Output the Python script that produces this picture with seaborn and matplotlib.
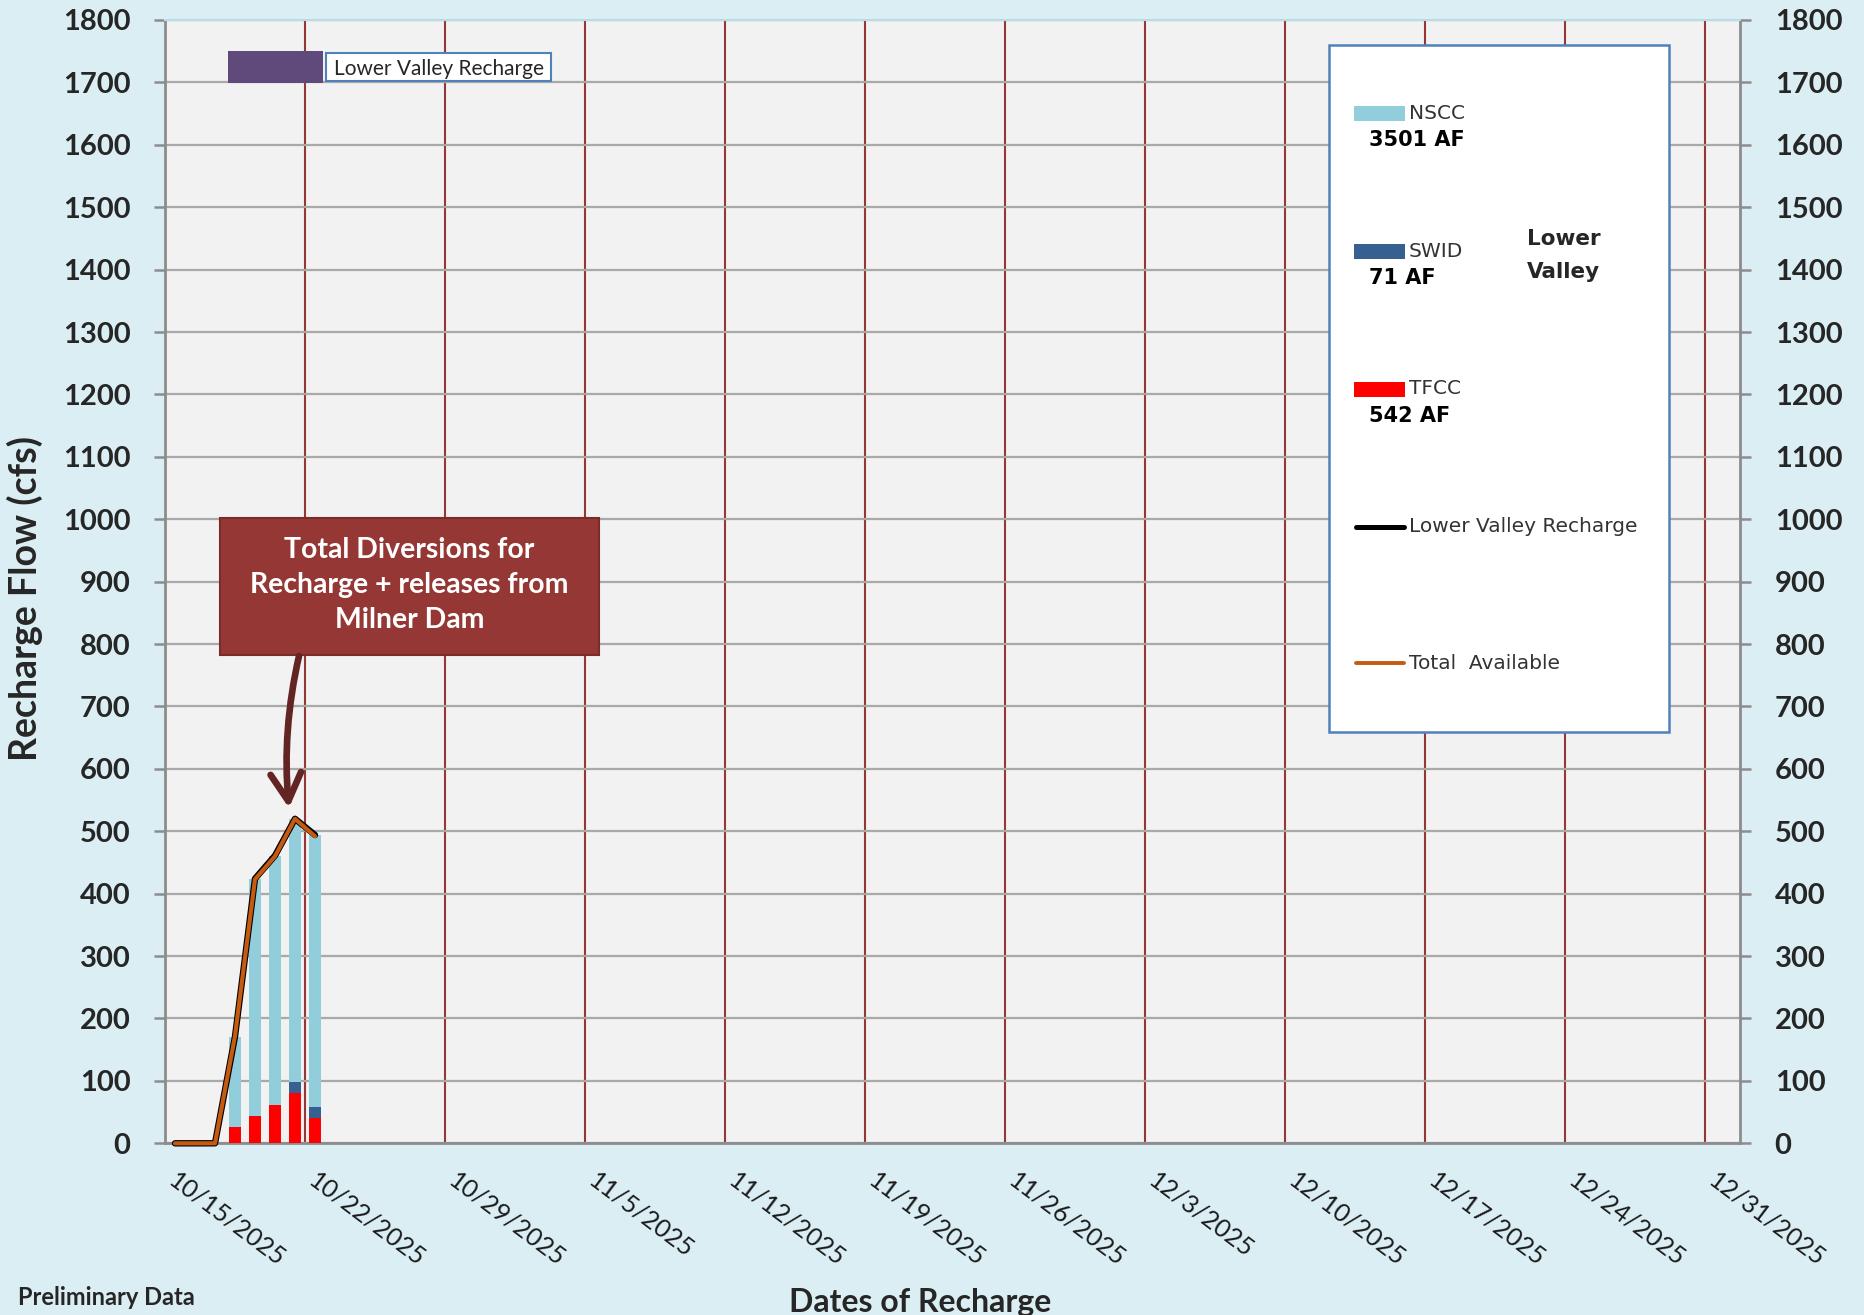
import matplotlib
matplotlib.use("Agg")
import matplotlib.pyplot as plt
import matplotlib.dates as mdates
from matplotlib.patches import Rectangle, FancyArrowPatch
from matplotlib.lines import Line2D
import numpy as np
import pandas as pd
import seaborn as sns

# ---------------- data ----------------
line_dates = ["2025-10-15", "2025-10-16", "2025-10-17", "2025-10-18",
              "2025-10-19", "2025-10-20", "2025-10-21", "2025-10-22"]
total_available = [0, 0, 0, 172, 423, 460, 520, 492]
lower_valley_recharge = [0, 0, 0, 171, 424, 461, 520, 494]

bar_dates = ["2025-10-18", "2025-10-19", "2025-10-20", "2025-10-21", "2025-10-22"]
nscc = [145, 380, 400, 422, 436]
swid = [0, 0, 0, 17, 18]
tfcc = [26, 44, 61, 81, 40]

series_names = ["NSCC", "SWID", "TFCC"]
series_totals = ["3501 AF", "71 AF", "542 AF"]
line_names = ["Lower Valley Recharge", "Total  Available"]

y_ticks = [0, 100, 200, 300, 400, 500, 600, 700, 800, 900, 1000,
           1100, 1200, 1300, 1400, 1500, 1600, 1700, 1800]
x_tick_dates = ["2025-10-15", "2025-10-22", "2025-10-29", "2025-11-05",
                "2025-11-12", "2025-11-19", "2025-11-26", "2025-12-03",
                "2025-12-10", "2025-12-17", "2025-12-24", "2025-12-31"]
x_tick_labels = ["10/15/2025", "10/22/2025", "10/29/2025", "11/5/2025",
                 "11/12/2025", "11/19/2025", "11/26/2025", "12/3/2025",
                 "12/10/2025", "12/17/2025", "12/24/2025", "12/31/2025"]

# ---------------- style ----------------
BG = "#daeef3"
PLOT_BG = "#f2f2f2"
colors = {"NSCC": "#92cddc", "SWID": "#376092", "TFCC": "#ff0000"}
ORANGE = "#c55a11"
SPINE = "#8c8c8c"
DARKRED = "#953735"
BOXBLUE = "#4f81bd"

sns.set_style("white")
plt.rcParams["font.family"] = ["Lato", "DejaVu Sans"]

W, H = 1864, 1315
fig = plt.figure(figsize=(W / 100, H / 100), dpi=100, facecolor=BG)
ax_l, ax_r, ax_t, ax_b = 165, 1740, 20, 1143.3
ax = fig.add_axes([ax_l / W, 1 - ax_b / H, (ax_r - ax_l) / W, (ax_b - ax_t) / H])
ax.set_facecolor(PLOT_BG)

half_day = 0.5  # Excel places values between tick marks

# stacked bars through seaborn
bar_x = mdates.date2num(pd.to_datetime(bar_dates)) + half_day
bars_df = pd.DataFrame({
    "x": np.tile(bar_x, 3),
    "cfs": nscc + swid + tfcc,
    "source": np.repeat(series_names, len(bar_x)),
})
sns.histplot(data=bars_df, x="x", weights="cfs", hue="source",
             hue_order=series_names, multiple="stack", discrete=True,
             shrink=0.62, palette=colors, alpha=1, linewidth=0,
             legend=False, ax=ax, zorder=3)

# lines through seaborn
line_df = pd.DataFrame({
    "x": mdates.date2num(pd.to_datetime(line_dates)) + half_day,
    "lv": lower_valley_recharge,
    "ta": total_available,
})
sns.lineplot(data=line_df, x="x", y="lv", color="black", linewidth=4.6,
             ax=ax, zorder=4, clip_on=False)
sns.lineplot(data=line_df, x="x", y="ta", color=ORANGE, linewidth=3.0,
             ax=ax, zorder=5, clip_on=False)

# ---------------- axes ----------------
ax.set_xlim(mdates.date2num(pd.Timestamp("2025-10-15")),
            mdates.date2num(pd.Timestamp("2026-01-01 18:00")))
ax.set_ylim(0, 1800)
ax.set_yticks(y_ticks)
ax.set_xticks(mdates.date2num(pd.to_datetime(x_tick_dates)))
ax.set_xticklabels(x_tick_labels, rotation=-37, ha="left", va="bottom",
                   rotation_mode="anchor", fontsize=18, color="#1a1a1a")

ax.tick_params(axis="x", direction="out", length=5, width=1.8, color=SPINE, pad=26.5)
ax.tick_params(axis="y", direction="out", length=8, width=1.8, color=SPINE,
               pad=17, labelsize=21, left=True, right=True,
               labelleft=True, labelright=True)
for t in ax.yaxis.get_major_ticks():
    t.label1.set_fontweight("bold")
    t.label2.set_fontweight("bold")

ax.set_axisbelow(True)
ax.grid(axis="y", color="#a9a9a9", linewidth=1.6)
ax.grid(axis="x", color=DARKRED, linewidth=1.5)

for side in ["left", "right", "bottom"]:
    ax.spines[side].set_color(SPINE)
    ax.spines[side].set_linewidth(2.0)
    ax.spines[side].set_visible(True)
ax.spines["top"].set_color("#b7dee8")
ax.spines["top"].set_linewidth(1.5)
ax.spines["top"].set_visible(True)

ax.set_xlabel("")
ax.set_ylabel("Recharge Flow (cfs)", fontsize=27, fontweight="bold")
ax.yaxis.set_label_coords(-0.0775, 0.485)

fig.text(920 / W, 1 - 1312 / H, "Dates of Recharge", ha="center", va="baseline",
         fontsize=23, fontweight="bold")
fig.text(18 / W, 1 - 1305 / H, "Preliminary Data", ha="left", va="baseline",
         fontsize=17, fontweight="bold")

# ---------------- annotation box & arrow ----------------
def fx(px):
    return (px - ax_l) / (ax_r - ax_l)


def fy(py):
    return (ax_b - py) / (ax_b - ax_t)


ax.add_patch(Rectangle((fx(220), fy(655)), fx(599) - fx(220), fy(517.7) - fy(655),
                       transform=ax.transAxes, facecolor=DARKRED,
                       edgecolor="#7a2c2a", linewidth=1.5, zorder=6))
ax.text(fx(409.5), fy(585), "Total Diversions for\nRecharge + releases from\nMilner Dam",
        transform=ax.transAxes, ha="center", va="center", color="white",
        fontsize=20.4, fontweight="bold", linespacing=1.45, zorder=7)
arrow = FancyArrowPatch((fx(299), fy(656)), (fx(289), fy(808)),
                        transform=ax.transAxes,
                        arrowstyle="->,head_length=1.0,head_width=0.55",
                        mutation_scale=20, connectionstyle="arc3,rad=0.08",
                        shrinkA=0, shrinkB=0,
                        color="#632523", linewidth=4.8, zorder=7)
ax.add_patch(arrow)

# ---------------- top-left label ----------------
ax.add_patch(Rectangle((fx(227.7), fy(82.7)), fx(323.3) - fx(227.7), fy(50.7) - fy(82.7),
                       transform=ax.transAxes, facecolor="#604a7b",
                       edgecolor="none", zorder=6))
ax.add_patch(Rectangle((fx(326), fy(81)), fx(550.7) - fx(326), fy(52.7) - fy(81),
                       transform=ax.transAxes, facecolor="white",
                       edgecolor=BOXBLUE, linewidth=1.5, zorder=6))
ax.text(fx(334), fy(69), line_names[0], transform=ax.transAxes, ha="left",
        va="center", fontsize=15, color="#262626", zorder=7)

# ---------------- legend ----------------
ax.add_patch(Rectangle((fx(1329), fy(732)), fx(1669) - fx(1329), fy(45) - fy(732),
                       transform=ax.transAxes, facecolor="white",
                       edgecolor=BOXBLUE, linewidth=1.8, zorder=6))
patch_y = [113.5, 251.5, 389]
for name, total, py in zip(series_names, series_totals, patch_y):
    ax.add_patch(Rectangle((fx(1354), fy(py + 7.5)), fx(1405) - fx(1354), fy(py - 7.5) - fy(py + 7.5),
                           transform=ax.transAxes, facecolor=colors[name],
                           edgecolor="none", zorder=7))
    ax.text(fx(1409), fy(py), name, transform=ax.transAxes, ha="left", va="center",
            fontsize=14.5, color="#333333", family="DejaVu Sans", zorder=7)
    ax.text(fx(1369), fy(py + 27), total, transform=ax.transAxes, ha="left",
            va="center", fontsize=15, fontweight="bold", color="black",
            family="DejaVu Sans", zorder=7)

line_y = [526.7, 663.4]
line_cols = ["black", ORANGE]
line_w = [3.6, 2.8]
for name, py, c, lw in zip(line_names, line_y, line_cols, line_w):
    ax.add_line(Line2D([fx(1356), fx(1404)], [fy(py), fy(py)], transform=ax.transAxes,
                       color=c, linewidth=lw, solid_capstyle="round", zorder=7))
    ax.text(fx(1409), fy(py), name, transform=ax.transAxes, ha="left", va="center",
            fontsize=14.5, color="#333333", family="DejaVu Sans", zorder=7)

ax.text(fx(1527), fy(239), "Lower", transform=ax.transAxes, ha="left", va="center",
        fontsize=15.5, fontweight="bold", family="DejaVu Sans", zorder=7)
ax.text(fx(1527), fy(272), "Valley", transform=ax.transAxes, ha="left", va="center",
        fontsize=15.5, fontweight="bold", family="DejaVu Sans", zorder=7)

fig.savefig("out.png", dpi=100, facecolor=BG)
